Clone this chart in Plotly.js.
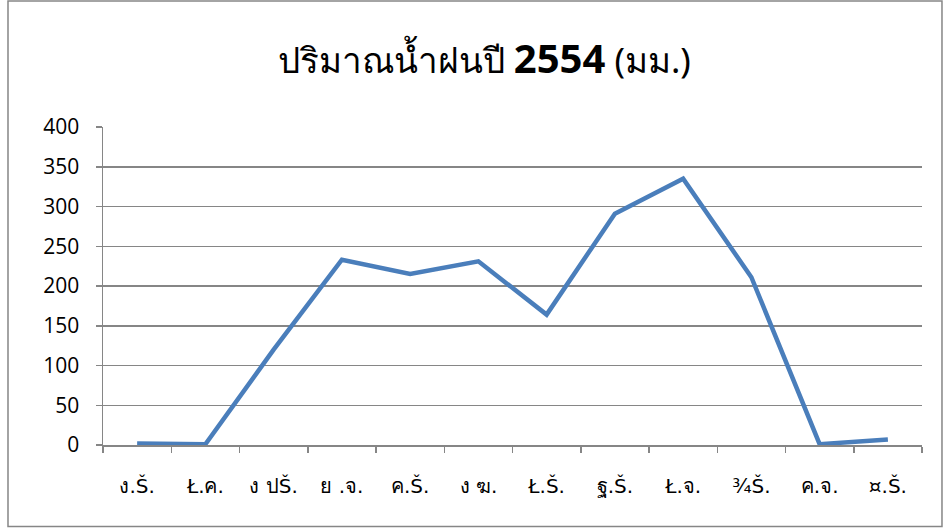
<!DOCTYPE html>
<html>
<head>
<meta charset="utf-8">
<script src="https://cdn.plot.ly/plotly-3.0.1.min.js"></script>
<style>html,body{margin:0;padding:0;background:#fff;}#chart{width:944px;height:528px;}</style>
</head>
<body>
<div id="chart"></div>
<script>
var months = ["ง.Š.", "Ł.ค.", "ง ปŠ.", "ย .จ.", "ค.Š.", "ง ฆ.", "Ł.Š.", "ฐ.Š.", "Ł.จ.", "¾Š.", "ค.จ.", "¤.Š."];
var rainfall = [2, 1, 120, 233, 215, 231, 164, 291, 335, 211, 1, 7];
var yTicks = [0, 50, 100, 150, 200, 250, 300, 350, 400];

var trace = {
  x: months,
  y: rainfall,
  type: 'scatter',
  mode: 'lines',
  line: {color: '#4a7ebb', width: 4.5},
  hoverinfo: 'x+y'
};

var layout = {
  width: 944, height: 528,
  margin: {l: 103, r: 22, t: 127, b: 83},
  paper_bgcolor: '#ffffff', plot_bgcolor: '#ffffff',
  showlegend: false,
  font: {family: 'Noto Sans, DejaVu Sans, sans-serif', color: '#000'},
  title: {
    text: 'ปริมาณน้ำฝนปี <b><span style="font-size:40px">2554</span></b> (มม.)',
    font: {size: 35, family: 'Noto Sans, Open Sans, sans-serif', color: '#000'},
    x: 0.513, xanchor: 'center', xref: 'container',
    y: 0.885, yanchor: 'middle', yref: 'container'
  },
  xaxis: {
    type: 'category',
    range: [-0.5, 11.5],
    showgrid: false,
    showline: true, linecolor: '#868686', linewidth: 1.5,
    ticks: 'outside', tickson: 'boundaries', ticklen: 6, tickcolor: '#868686', tickwidth: 1.5,
    ticklabelstandoff: 22,
    tickfont: {size: 20, family: 'DejaVu Sans, Noto Sans, sans-serif'},
    zeroline: false
  },
  yaxis: {
    range: [0, 400],
    tickvals: yTicks,
    ticktext: yTicks.map(String),
    showgrid: true, gridcolor: '#868686', gridwidth: 1.5,
    showline: true, linecolor: '#868686', linewidth: 1.5,
    ticks: 'outside', ticklen: 6, tickcolor: '#868686', tickwidth: 1.5,
    ticklabelstandoff: 12,
    tickfont: {size: 21, family: 'Open Sans, Noto Sans, sans-serif'},
    zeroline: false
  },
  shapes: [{
    type: 'rect', xref: 'paper', yref: 'paper',
    x0: -0.1160, x1: 1.0244, y0: -0.2563, y1: 1.3962,
    line: {color: '#868686', width: 1.5}, fillcolor: 'rgba(0,0,0,0)'
  }]
};

Plotly.newPlot('chart', [trace], layout, {displayModeBar: false, staticPlot: true});
</script>
</body>
</html>
